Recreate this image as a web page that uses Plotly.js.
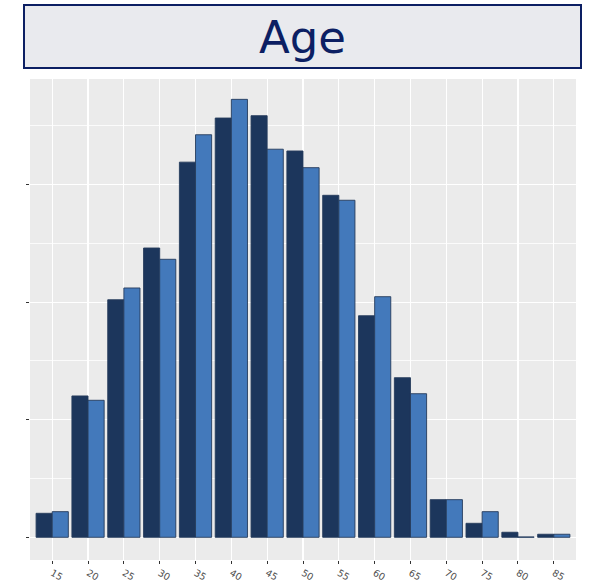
<!DOCTYPE html>
<html>
<head>
<meta charset="utf-8">
<script src="https://cdn.plot.ly/plotly-3.0.1.min.js"></script>
<style>
  html, body { margin: 0; padding: 0; background: #ffffff; }
  #chart { width: 598px; height: 584px; }
</style>
</head>
<body>
<div id="chart"></div>
<script>
// Age groups (bin centres)
var ages = [15, 20, 25, 30, 35, 40, 45, 50, 55, 60, 65, 70, 75, 80, 85];
var tickLabels = ["15", "20", "25", "30", "35", "40", "45", "50", "55", "60", "65", "70", "75", "80", "85"];
// Series values (arbitrary units)
var seriesA = [20.4, 120.2, 202, 246, 319, 356.5, 358.5, 328.5, 290.8, 188.4, 135.7, 32, 11.9, 4.3, 2.6];
var seriesB = [21.8, 116.5, 212, 236.4, 342.3, 372.4, 330, 314.3, 286.6, 204.6, 122.1, 32, 21.8, 0.3, 2.6];

var lineStyle = { color: "rgba(38,60,92,0.9)", width: 1 };

var traces = [
  {
    type: "bar", name: "A", x: ages, y: seriesA,
    marker: { color: "#1c365c", line: lineStyle },
    hoverinfo: "x+y"
  },
  {
    type: "bar", name: "B", x: ages, y: seriesB,
    marker: { color: "#4379bb", line: lineStyle },
    hoverinfo: "x+y"
  }
];

var layout = {
  width: 598, height: 584,
  margin: { l: 30, r: 22, t: 79, b: 24, pad: 0 },
  paper_bgcolor: "#ffffff",
  plot_bgcolor: "#ebebeb",
  showlegend: false,
  barmode: "group",
  bargap: 0.1,
  bargroupgap: 0,
  title: {
    text: "Age",
    font: { family: "DejaVu Sans", size: 45, color: "#0c1f63" },
    xref: "paper", x: 0.499, xanchor: "center",
    yref: "container", y: 1 - 37 / 584, yanchor: "middle"
  },
  xaxis: {
    range: [11.9, 88.1],
    tickmode: "array", tickvals: ages, ticktext: tickLabels,
    tickangle: 30,
    ticks: "outside", ticklen: 3, tickwidth: 1, tickcolor: "#333333",
    tickfont: { family: "DejaVu Sans", size: 9.5, color: "#4d4d4d" },
    showgrid: true, gridcolor: "#ffffff", gridwidth: 1.1,
    zeroline: false, showline: false, fixedrange: true
  },
  yaxis: {
    range: [-19.3, 389.7],
    tickmode: "linear", tick0: 0, dtick: 100,
    showticklabels: false,
    ticks: "outside", ticklen: 3, tickwidth: 1, tickcolor: "#333333",
    showgrid: true, gridcolor: "#ffffff", gridwidth: 1.1,
    minor: { dtick: 50, showgrid: true, gridcolor: "#ffffff", gridwidth: 0.8, ticks: "" },
    zeroline: false, showline: false, fixedrange: true
  },
  shapes: [
    {
      type: "rect", xref: "paper", yref: "paper",
      x0: (24 - 30) / 546, x1: (581 - 30) / 546,
      y0: (560 - 68) / 481, y1: (560 - 5) / 481,
      fillcolor: "#e9eaee",
      line: { color: "#0c1f63", width: 2 },
      layer: "below"
    }
  ]
};

Plotly.newPlot("chart", traces, layout, { displayModeBar: false, staticPlot: true });
</script>
</body>
</html>
